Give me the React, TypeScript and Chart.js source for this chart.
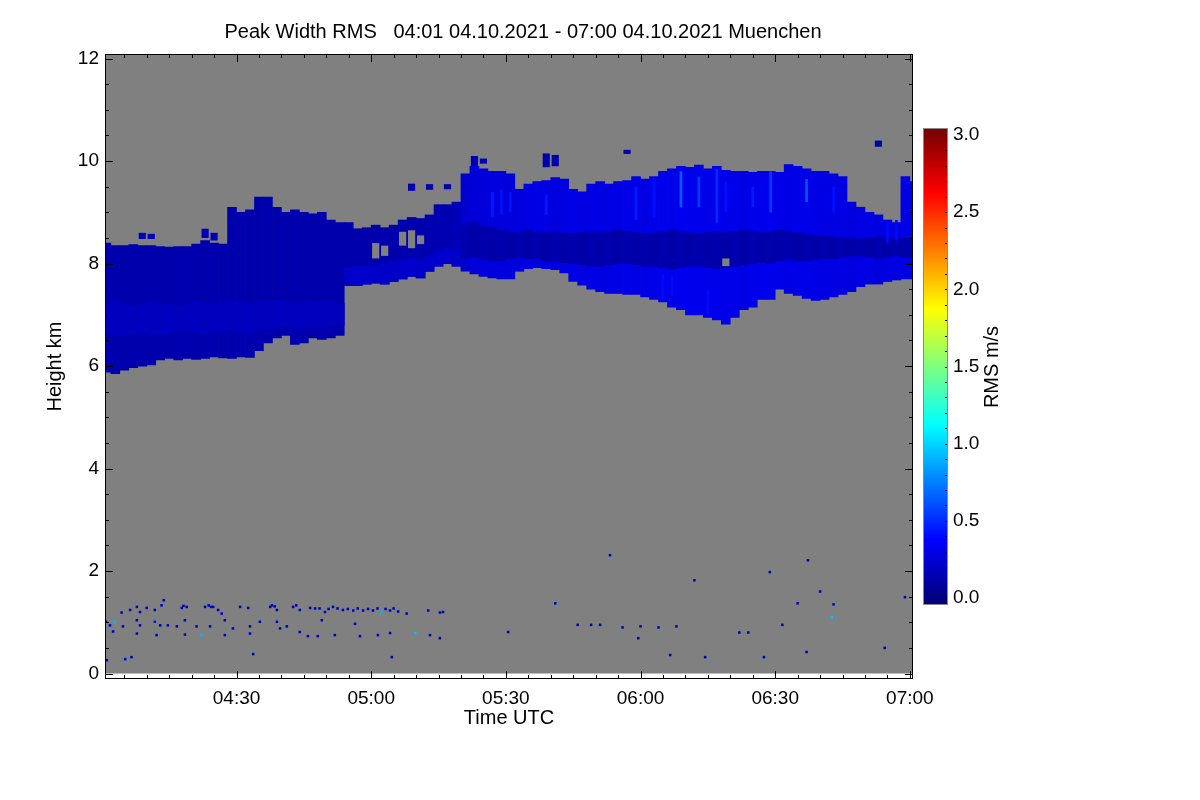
import React, { useEffect, useRef } from "react";
import { Chart, registerables } from "chart.js";
Chart.register(...registerables);

// ---------------- text ----------------
const TITLE = "Peak Width RMS   04:01 04.10.2021 - 07:00 04.10.2021 Muenchen";
const X_TITLE = "Time UTC";
const Y_TITLE = "Height km";
const CB_TITLE = "RMS m/s";

// ---------------- axes ----------------
const timeMin = 0.7; // minutes after 04:00 UTC
const timeMax = 180.7;
const heightMin = -0.107; // km
const heightMax = 12.09;
const xTickMinutes = [30, 60, 90, 120, 150, 180];
const yTickKm = [0, 2, 4, 6, 8, 10, 12];
const cbTicks = [0, 0.5, 1, 1.5, 2, 2.5, 3];
const cbMin = -0.045;
const cbMax = 3.045;
const cbStops = [0, 0.375, 1.125, 1.875, 2.625, 3];

// ---------------- data: 2-minute columns (minutes after 04:00) ----------------
const columnTimes = Array.from({ length: 91 }, (_, i) => 1 + 2 * i);

const cloudTop = [
  8.40, 8.35, 8.35, 8.37, 8.35, 8.35, 8.33, 8.32, 8.33, 8.33,
  8.38, 8.45, 8.40, 8.38, 9.10, 9.00, 9.05, 9.30, 9.30, 9.10,
  9.00, 9.05, 9.00, 8.97, 9.00, 8.85, 8.80, 8.80, 8.68, 8.70,
  8.75, 8.70, 8.75, 8.85, 8.90, 8.88, 8.95, 9.15, 9.15, 9.20,
  9.75, 9.90, 9.85, 9.80, 9.80, 9.75, 9.45, 9.55, 9.60, 9.62,
  9.68, 9.65, 9.45, 9.40, 9.55, 9.60, 9.55, 9.60, 9.62, 9.70,
  9.65, 9.70, 9.80, 9.85, 9.90, 9.88, 9.92, 9.85, 9.90, 9.82,
  9.80, 9.80, 9.78, 9.80, 9.80, 9.78, 9.93, 9.90, 9.85, 9.80,
  9.80, 9.75, 9.70, 9.20, 9.10, 9.00, 8.95, 8.85, 8.80, 9.70,
  9.60,
];
const cloudBase = [
  5.88, 5.85, 5.92, 5.97, 6.00, 6.02, 6.12, 6.15, 6.12, 6.15,
  6.13, 6.15, 6.18, 6.16, 6.15, 6.18, 6.17, 6.30, 6.45, 6.55,
  6.60, 6.42, 6.45, 6.55, 6.52, 6.55, 6.60, 7.57, 7.57, 7.60,
  7.62, 7.60, 7.65, 7.70, 7.75, 7.72, 7.85, 7.95, 8.00, 7.95,
  7.85, 7.80, 7.75, 7.72, 7.70, 7.70, 7.85, 7.90, 7.92, 7.90,
  7.88, 7.82, 7.65, 7.58, 7.50, 7.45, 7.42, 7.42, 7.40, 7.40,
  7.35, 7.30, 7.25, 7.15, 7.10, 7.00, 7.00, 6.95, 6.90, 6.82,
  6.95, 7.10, 7.15, 7.30, 7.30, 7.50, 7.42, 7.38, 7.32, 7.28,
  7.30, 7.35, 7.40, 7.45, 7.55, 7.60, 7.60, 7.65, 7.68, 7.70,
  7.70,
];
const rmsMain = [
  0.14, 0.13, 0.13, 0.14, 0.13, 0.13, 0.14, 0.13, 0.13, 0.14,
  0.13, 0.13, 0.14, 0.13, 0.13, 0.14, 0.13, 0.13, 0.14, 0.13,
  0.13, 0.14, 0.13, 0.13, 0.14, 0.13, 0.13, 0.13, 0.13, 0.13,
  0.13, 0.13, 0.13, 0.14, 0.14, 0.14, 0.14, 0.15, 0.15, 0.17,
  0.24, 0.26, 0.27, 0.28, 0.28, 0.27, 0.28, 0.29, 0.30, 0.29,
  0.28, 0.29, 0.30, 0.29, 0.30, 0.30, 0.29, 0.30, 0.31, 0.30,
  0.30, 0.31, 0.32, 0.31, 0.33, 0.32, 0.32, 0.31, 0.32, 0.31,
  0.31, 0.30, 0.31, 0.32, 0.32, 0.31, 0.30, 0.31, 0.31, 0.30,
  0.30, 0.29, 0.29, 0.28, 0.29, 0.29, 0.28, 0.29, 0.29, 0.30,
  0.30,
];
// inner band: lighter layer in the early cloud, dark core in the later cloud
const bandLo = [
  6.65, 6.62, 6.60, 6.62, 6.65, 6.60, 6.62, 6.65, 6.68, 6.66,
  6.64, 6.62, 6.66, 6.68, 6.70, 6.66, 6.64, 6.70, 6.72, 6.75,
  6.78, 6.72, 6.74, 6.76, 6.74, 6.78, 6.80, 7.57, 7.57, 7.60,
  7.62, 7.60, 7.65, 7.70, 7.75, 7.72, 7.85, 7.95, 8.00, 7.95,
  8.10, 8.12, 8.08, 8.05, 8.05, 8.10, 8.12, 8.10, 8.08, 8.05,
  8.05, 8.02, 8.00, 7.98, 7.95, 7.95, 7.98, 8.00, 8.00, 7.98,
  7.95, 7.95, 7.92, 7.90, 7.92, 7.95, 7.95, 7.92, 7.90, 7.92,
  7.95, 7.98, 8.00, 8.02, 8.00, 8.05, 8.08, 8.05, 8.05, 8.08,
  8.10, 8.10, 8.12, 8.15, 8.15, 8.12, 8.10, 8.12, 8.15, 8.12,
  8.12,
];
const bandHi = [
  7.20, 7.25, 7.22, 7.18, 7.20, 7.25, 7.22, 7.20, 7.18, 7.22,
  7.25, 7.22, 7.20, 7.24, 7.28, 7.25, 7.22, 7.26, 7.30, 7.28,
  7.25, 7.22, 7.24, 7.26, 7.28, 7.25, 7.22, 7.92, 7.95, 7.95,
  7.95, 8.00, 8.05, 8.08, 8.10, 8.08, 8.15, 8.25, 8.30, 8.28,
  8.75, 8.80, 8.75, 8.70, 8.65, 8.62, 8.60, 8.65, 8.62, 8.60,
  8.62, 8.60, 8.58, 8.60, 8.62, 8.60, 8.62, 8.65, 8.62, 8.60,
  8.58, 8.60, 8.62, 8.65, 8.62, 8.60, 8.58, 8.60, 8.62, 8.60,
  8.62, 8.65, 8.62, 8.60, 8.62, 8.65, 8.62, 8.60, 8.58, 8.55,
  8.55, 8.52, 8.50, 8.50, 8.48, 8.50, 8.52, 8.50, 8.48, 8.50,
  8.50,
];
const rmsBand = [
  0.18, 0.19, 0.18, 0.18, 0.19, 0.18, 0.18, 0.19, 0.18, 0.18,
  0.19, 0.18, 0.18, 0.19, 0.18, 0.18, 0.19, 0.18, 0.18, 0.19,
  0.18, 0.18, 0.19, 0.18, 0.18, 0.18, 0.18, 0.21, 0.22, 0.22,
  0.21, 0.22, 0.21, 0.22, 0.22, 0.21, 0.22, 0.23, 0.22, 0.22,
  0.13, 0.12, 0.13, 0.12, 0.13, 0.12, 0.13, 0.12, 0.13, 0.12,
  0.13, 0.12, 0.13, 0.12, 0.13, 0.12, 0.13, 0.12, 0.13, 0.12,
  0.13, 0.12, 0.13, 0.12, 0.13, 0.12, 0.13, 0.12, 0.13, 0.12,
  0.13, 0.12, 0.13, 0.12, 0.13, 0.12, 0.13, 0.12, 0.13, 0.12,
  0.13, 0.12, 0.13, 0.12, 0.13, 0.12, 0.13, 0.12, 0.13, 0.12,
  0.13,
];

// brighter narrow streaks
const streakTime = [87, 89, 91, 99, 119, 123, 125, 127, 129, 133, 135, 137, 139, 145, 149, 157, 163, 175, 177];
const streakLo = [8.90, 8.95, 9.00, 8.95, 8.85, 8.90, 7.30, 7.35, 9.10, 9.10, 7.00, 8.80, 9.00, 9.10, 9.00, 9.20, 9.00, 8.40, 8.45];
const streakHi = [9.40, 9.45, 9.40, 9.35, 9.50, 9.60, 7.80, 7.75, 9.80, 9.70, 7.50, 9.85, 9.60, 9.50, 9.80, 9.65, 9.50, 8.80, 8.85];
const streakRms = [0.45, 0.42, 0.42, 0.45, 0.45, 0.42, 0.40, 0.40, 0.65, 0.55, 0.40, 0.50, 0.42, 0.45, 0.55, 0.62, 0.42, 0.40, 0.40];

// detached cloud pieces above the main layer
const blobTime = [9, 11, 23, 25, 69, 73, 77, 83, 85, 99, 101, 117, 173];
const blobLo = [8.48, 8.48, 8.50, 8.45, 9.42, 9.44, 9.45, 9.90, 9.95, 9.88, 9.90, 10.14, 10.28];
const blobHi = [8.60, 8.58, 8.68, 8.60, 9.56, 9.55, 9.55, 10.10, 10.05, 10.15, 10.12, 10.22, 10.40];
const blobRms = [0.16, 0.16, 0.16, 0.16, 0.14, 0.14, 0.14, 0.16, 0.16, 0.14, 0.14, 0.14, 0.14];

// clear gaps inside the cloud
const gapTime = [61, 63, 67, 69, 71, 139];
const gapLo = [8.10, 8.15, 8.35, 8.30, 8.38, 7.95];
const gapHi = [8.40, 8.35, 8.62, 8.65, 8.55, 8.10];

// low-level echoes
const speckTime = [
  4.4, 6.3, 7.8, 8.5, 10, 11.8, 13.3, 13.8, 17.8, 18.9, 23, 24.8, 25.9, 26.7, 30.8, 32.6, 37.5, 39, 42.6, 44.1,
  46.4, 49.7, 51.5, 53.7, 56, 58.2, 60.4, 62.3, 64.2, 66, 67.9, 72.7, 75.3,
  47.5, 48.5, 50.5, 52.5, 54.8, 57, 59.3, 61.4, 63.2, 65, 18.2, 23.8, 24.3, 37.9, 38.5, 43.3,
  0.9, 1.8, 2.9, 4.7, 7.8, 8.5, 11.8, 13, 14.7, 16.7, 18.5, 21.1, 24.1, 27.4, 29.2, 33, 35.2, 39, 41.2, 49, 56.4,
  2.5, 7.8, 12.2, 18.5, 22.2, 27.4, 33, 39.7, 44.1, 45.9, 48.1, 51.9, 57.5, 61.5, 64.2, 69.8, 73.1,
  1.1, 5.2, 6.6, 33.7, 64.6,
  90.5, 101, 106, 109, 111, 116, 120, 124, 128, 119.5, 126.6, 134.4, 142, 144, 147.5, 151.6, 155, 157, 160, 163,
  162.6, 148.8, 132, 113.2, 157.3, 174.4, 178.9, 76, 75.3,
];
const speckHeight = [
  1.19, 1.24, 1.30, 1.20, 1.28, 1.24, 1.33, 1.43, 1.28, 1.30, 1.30, 1.30, 1.24, 1.17, 1.30, 1.28, 1.30, 1.24, 1.30, 1.24,
  1.28, 1.20, 1.30, 1.24, 1.23, 1.23, 1.23, 1.20, 1.23, 1.21, 1.17, 1.23, 1.19,
  1.27, 1.27, 1.26, 1.27, 1.26, 1.27, 1.26, 1.27, 1.26, 1.27, 1.32, 1.33, 1.30, 1.33, 1.31, 1.33,
  1.01, 0.94, 1.01, 0.92, 1.04, 0.94, 1.01, 0.94, 0.94, 0.92, 1.04, 0.92, 0.92, 1.04, 0.88, 0.92, 1.01, 1.01, 0.92, 1.04, 0.97,
  0.82, 0.78, 0.75, 0.76, 0.75, 0.75, 0.78, 0.88, 0.81, 0.73, 0.73, 0.75, 0.73, 0.75, 0.79, 0.79, 0.75,
  0.26, 0.28, 0.32, 0.38, 0.32,
  0.81, 1.37, 0.95, 0.95, 0.95, 0.90, 0.92, 0.90, 0.92, 0.69, 0.36, 0.32, 0.80, 0.80, 0.32, 0.95, 1.37, 0.42, 1.60, 1.35,
  1.10, 1.98, 1.82, 2.31, 2.21, 0.50, 1.49, 1.20, 0.69,
];
const speckRms = [
  0.22, 0.22, 0.22, 0.22, 0.22, 0.18, 0.22, 0.22, 0.22, 0.18, 0.22, 0.22, 0.18, 0.22, 0.22, 0.22, 0.22, 0.18, 0.22, 0.22,
  0.22, 0.22, 0.22, 0.22, 0.22, 0.22, 0.22, 0.90, 0.22, 0.22, 0.18, 0.22, 0.25,
  0.22, 0.22, 0.22, 0.22, 0.22, 0.22, 0.22, 0.22, 0.22, 0.22, 0.20, 0.20, 0.20, 0.20, 0.20, 0.20,
  0.22, 0.22, 0.90, 0.22, 0.22, 0.22, 0.45, 0.22, 0.22, 0.22, 0.22, 0.22, 0.22, 0.22, 0.22, 0.18, 0.22, 0.22, 0.22, 0.22, 0.22,
  0.22, 0.22, 0.22, 0.22, 0.90, 0.22, 0.22, 0.22, 0.22, 0.22, 0.22, 0.22, 0.22, 0.22, 0.22, 0.95, 0.22,
  0.22, 0.22, 0.22, 0.22, 0.22,
  0.18, 0.18, 0.18, 0.18, 0.18, 0.18, 0.18, 0.18, 0.18, 0.16, 0.14, 0.18, 0.18, 0.18, 0.18, 0.18, 0.18, 0.18, 0.18, 0.30,
  0.95, 0.18, 0.18, 0.18, 0.18, 0.18, 0.18, 0.18, 0.18,
];

// ---------------- styling helpers ----------------
const FONT = "'Liberation Sans', Arial, Helvetica, sans-serif";
const GRAY = "rgb(128,128,128)";

function jet(v: number): string {
  const t = Math.max(0, Math.min(1, v / 3));
  const c = (x: number) => Math.round(255 * Math.max(0, Math.min(1, x)));
  const r = c(1.5 - Math.abs(4 * t - 3));
  const g = c(1.5 - Math.abs(4 * t - 2));
  const b = c(1.5 - Math.abs(4 * t - 1));
  return `rgb(${r},${g},${b})`;
}

function fmtTime(v: number): string {
  const h = 4 + Math.floor(v / 60);
  const m = Math.round(v % 60);
  return `${String(h).padStart(2, "0")}:${String(m).padStart(2, "0")}`;
}

const mainPlugin = {
  id: "radarFrame",
  beforeDatasetsDraw(chart: any) {
    const { ctx, chartArea: a, scales } = chart;
    const y = scales.y;
    ctx.save();
    ctx.fillStyle = GRAY;
    const yb = y.getPixelForValue(0);
    ctx.fillRect(a.left, a.top, a.right - a.left, yb - a.top);
    ctx.restore();
  },
  afterDatasetsDraw(chart: any) {
    const { ctx, chartArea: a, scales } = chart;
    const x = scales.x;
    const y = scales.y;
    ctx.save();
    ctx.strokeStyle = "#000";
    ctx.lineWidth = 1;
    ctx.beginPath();
    for (let m = 5; m <= 180; m += 5) {
      const px = Math.round(x.getPixelForValue(m)) + 0.5;
      const len = m % 30 === 0 ? 8 : 4;
      ctx.moveTo(px, a.bottom);
      ctx.lineTo(px, a.bottom - len);
      ctx.moveTo(px, a.top);
      ctx.lineTo(px, a.top + len);
    }
    for (let k = 0; k <= 24; k++) {
      const v = k * 0.5;
      const py = Math.round(y.getPixelForValue(v)) + 0.5;
      const len = k % 4 === 0 ? 8 : 4;
      ctx.moveTo(a.left, py);
      ctx.lineTo(a.left + len, py);
      ctx.moveTo(a.right, py);
      ctx.lineTo(a.right - len, py);
    }
    ctx.stroke();
    ctx.strokeRect(a.left + 0.5, a.top + 0.5, a.right - a.left - 1, a.bottom - a.top - 1);
    ctx.restore();
  },
  afterDraw(chart: any) {
    const { ctx } = chart;
    ctx.save();
    ctx.fillStyle = "#000";
    ctx.font = `20px ${FONT}`;
    ctx.textAlign = "center";
    ctx.textBaseline = "middle";
    ctx.fillText(TITLE, 523, 32);
    ctx.restore();
  },
};

const cbPlugin = {
  id: "cbFrame",
  afterDatasetsDraw(chart: any) {
    const { ctx, chartArea: a, scales } = chart;
    const y = scales.y;
    ctx.save();
    ctx.strokeStyle = "#000";
    ctx.lineWidth = 1;
    ctx.beginPath();
    for (let k = 0; k <= 30; k++) {
      const py = Math.round(y.getPixelForValue(k / 10)) + 0.5;
      ctx.moveTo(a.right, py);
      ctx.lineTo(a.right - 3, py);
    }
    ctx.stroke();
    ctx.strokeStyle = "#8a8a8a";
    ctx.strokeRect(a.left + 0.5, a.top + 0.5, a.right - a.left - 1, a.bottom - a.top - 1);
    ctx.restore();
  },
  afterDraw(chart: any) {
    const { ctx } = chart;
    ctx.save();
    ctx.fillStyle = "#000";
    ctx.font = `20px ${FONT}`;
    ctx.textAlign = "center";
    ctx.textBaseline = "middle";
    ctx.translate(92, 267);
    ctx.rotate(-Math.PI / 2);
    ctx.fillText(CB_TITLE, 0, 0);
    ctx.restore();
  },
};

export default function App() {
  const mainRef = useRef<HTMLCanvasElement | null>(null);
  const cbRef = useRef<HTMLCanvasElement | null>(null);

  useEffect(() => {
    if (!mainRef.current || !cbRef.current) return;
    Chart.defaults.font.family = FONT;
    Chart.defaults.color = "#000";

    const barCommon = {
      type: "bar" as const,
      grouped: false,
      borderWidth: 0,
      borderSkipped: false,
      categoryPercentage: 1,
    };

    const main = new Chart(mainRef.current, {
      type: "bar",
      data: {
        datasets: [
          {
            ...barCommon,
            label: "echo",
            order: 6,
            barPercentage: 1,
            data: columnTimes.map((t, i) => ({ x: t, y: [cloudBase[i], cloudTop[i]] })),
            backgroundColor: rmsMain.map((v) => jet(v)),
          },
          {
            ...barCommon,
            label: "band",
            order: 5,
            barPercentage: 1,
            data: columnTimes.map((t, i) => ({ x: t, y: [bandLo[i], bandHi[i]] })),
            backgroundColor: rmsBand.map((v) => jet(v)),
          },
          {
            ...barCommon,
            label: "streaks",
            order: 4,
            barPercentage: 0.3,
            data: streakTime.map((t, i) => ({ x: t, y: [streakLo[i], streakHi[i]] })),
            backgroundColor: streakRms.map((v) => jet(v)),
          },
          {
            ...barCommon,
            label: "gaps",
            order: 3,
            barPercentage: 0.8,
            data: gapTime.map((t, i) => ({ x: t, y: [gapLo[i], gapHi[i]] })),
            backgroundColor: GRAY,
          },
          {
            ...barCommon,
            label: "pieces",
            order: 2,
            barPercentage: 0.8,
            data: blobTime.map((t, i) => ({ x: t, y: [blobLo[i], blobHi[i]] })),
            backgroundColor: blobRms.map((v) => jet(v)),
          },
          {
            type: "scatter" as const,
            label: "low echoes",
            order: 1,
            data: speckTime.map((t, i) => ({ x: t, y: speckHeight[i] })),
            pointStyle: "rect",
            pointRadius: 1.8,
            pointBorderWidth: 0,
            pointBackgroundColor: speckRms.map((v) => jet(v)),
            borderWidth: 0,
            showLine: false,
          } as any,
        ],
      },
      options: {
        animation: false,
        responsive: false,
        maintainAspectRatio: false,
        events: [],
        layout: { padding: { left: 0, top: 54, right: 287, bottom: 61 } },
        plugins: { legend: { display: false }, tooltip: { enabled: false }, title: { display: false } },
        scales: {
          x: {
            type: "linear",
            min: timeMin,
            max: timeMax,
            offset: false,
            grid: { display: false, drawTicks: false },
            border: { display: false },
            afterBuildTicks: (s: any) => {
              s.ticks = xTickMinutes.map((v) => ({ value: v }));
            },
            afterFit: (s: any) => {
              s.height = 60;
            },
            ticks: {
              autoSkip: false,
              maxRotation: 0,
              padding: 8,
              font: { size: 19, family: FONT },
              color: "#000",
              callback: (v: any) => fmtTime(Number(v)),
            },
            title: {
              display: true,
              text: X_TITLE,
              font: { size: 20, family: FONT },
              color: "#000",
              padding: { top: 0, bottom: 8.6 },
            },
          },
          y: {
            type: "linear",
            min: heightMin,
            max: heightMax,
            grid: { display: false, drawTicks: false },
            border: { display: false },
            afterBuildTicks: (s: any) => {
              s.ticks = yTickKm.map((v) => ({ value: v }));
            },
            afterFit: (s: any) => {
              s.width = 105;
            },
            ticks: {
              autoSkip: false,
              padding: 6,
              font: { size: 19, family: FONT },
              color: "#000",
              callback: (v: any) => String(v),
            },
            title: {
              display: true,
              text: Y_TITLE,
              font: { size: 20, family: FONT },
              color: "#000",
              padding: { top: 43.6, bottom: 0 },
            },
          },
        },
      },
      plugins: [mainPlugin],
    } as any);

    const cb = new Chart(cbRef.current, {
      type: "bar",
      data: {
        labels: [CB_TITLE],
        datasets: [
          {
            data: [[cbMin, cbMax]],
            borderWidth: 0,
            barPercentage: 1,
            categoryPercentage: 1,
            backgroundColor: (c: any) => {
              const { chart } = c;
              const { ctx, chartArea } = chart;
              if (!chartArea) return jet(1.5);
              const y = chart.scales.y;
              const g = ctx.createLinearGradient(0, y.getPixelForValue(0), 0, y.getPixelForValue(3));
              for (const s of cbStops) g.addColorStop(s / 3, jet(s));
              return g;
            },
          },
        ],
      },
      options: {
        animation: false,
        responsive: false,
        maintainAspectRatio: false,
        events: [],
        layout: { padding: { left: 23, top: 28, right: 0, bottom: 35 } },
        plugins: { legend: { display: false }, tooltip: { enabled: false } },
        scales: {
          x: { display: false },
          y: {
            position: "right",
            min: cbMin,
            max: cbMax,
            grid: { display: false, drawTicks: false },
            border: { display: false },
            afterBuildTicks: (s: any) => {
              s.ticks = cbTicks.map((v) => ({ value: v }));
            },
            afterFit: (s: any) => {
              s.width = 152;
            },
            ticks: {
              autoSkip: false,
              padding: 5,
              font: { size: 19, family: FONT },
              color: "#000",
              callback: (v: any) => Number(v).toFixed(1),
            },
          },
        },
      },
      plugins: [cbPlugin],
    } as any);

    return () => {
      main.destroy();
      cb.destroy();
    };
  }, []);

  return (
    <div style={{ position: "fixed", left: 0, top: 0, width: 1200, height: 800, background: "#fff" }}>
      <canvas
        ref={mainRef}
        width={1200}
        height={800}
        style={{ position: "absolute", left: 0, top: 0, width: 1200, height: 800 }}
      />
      <canvas
        ref={cbRef}
        width={200}
        height={540}
        style={{ position: "absolute", left: 900, top: 100, width: 200, height: 540 }}
      />
    </div>
  );
}
